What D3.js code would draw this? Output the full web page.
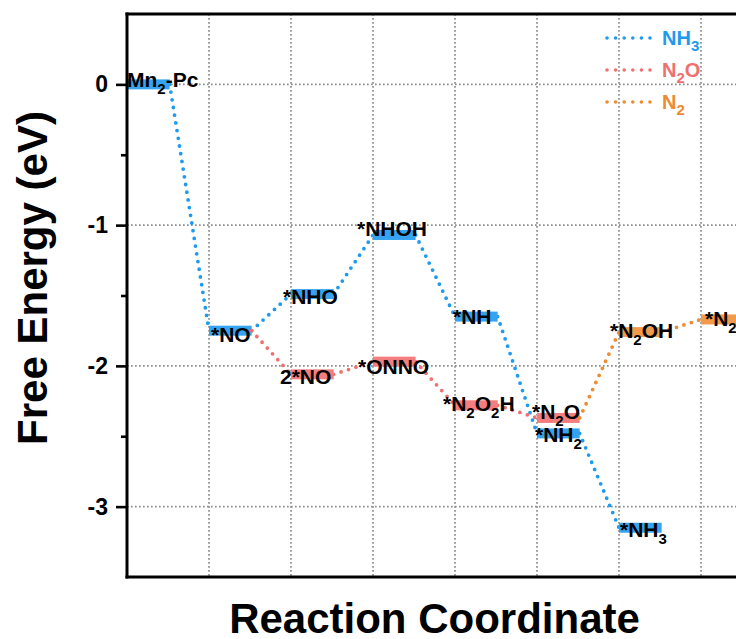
<!DOCTYPE html>
<html>
<head>
<meta charset="utf-8">
<script src="https://cdn.jsdelivr.net/npm/d3@7"></script>
<style>
  body { margin: 0; background: #fff; }
  svg { display: block; font-family: "Liberation Sans", Arial, sans-serif; font-weight: bold; }
</style>
</head>
<body>
<div id="chart"></div>
<script>
// free energy pathway data (eV), steps along the reaction coordinate
var nh3Steps = [0, 1, 2, 3, 4, 5, 6];
var nh3Energy = [0, -1.75, -1.49, -1.07, -1.65, -2.48, -3.15];
var nh3Labels = ["Mn_2-Pc", "*NO", "*NHO", "*NHOH", "*NH", "*NH_2", "*NH_3"];

var n2oSteps = [1, 2, 3, 4, 5];
var n2oEnergy = [-1.75, -2.06, -1.97, -2.28, -2.37];
var n2oLabels = ["", "2*NO", "*ONNO", "*N_2O_2H", "*N_2O"];

var n2Steps = [5, 6, 7];
var n2Energy = [-2.37, -1.76, -1.67];
var n2Labels = ["", "*N_2OH", "*N_2"];

var yTicks = [0, -1, -2, -3];
var yMinorTicks = [-0.5, -1.5, -2.5];
var gridSteps = [1, 2, 3, 4, 5, 6, 7];
var legendNames = ["NH_3", "N_2O", "N_2"];

// label nudges in px [dx, dy] relative to level start / level centre
var labelShift = {
  "Mn_2-Pc": [0, 3], "*NO": [2, 11], "*NHO": [-8, 10], "*NHOH": [-16, 1],
  "*NH": [-2, 7], "*NH_2": [-2, 9], "*NH_3": [1, 9],
  "2*NO": [-11, 10], "*ONNO": [-15, 12], "*N_2O_2H": [-12, 6], "*N_2O": [-5, 1],
  "*N_2OH": [-9, 6], "*N_2": [4, 7]
};

var colors = { nh3: "#1E9AEE", n2o: "#F07070", n2: "#EE8A30" };
var barColors = { nh3: "#36A3F1", n2o: "#F47E7E", n2: "#F29A4C" };

var W = 736, H = 639;
var margin = { left: 127, top: 14, right: 742, bottom: 577 };
var levelWidth = 0.52;

var svg = d3.select("#chart").append("svg")
  .attr("width", W).attr("height", H);

var x = d3.scaleLinear().domain([0, 7.5]).range([margin.left, margin.right]);
var y = d3.scaleLinear().domain([-3.5, 0.5]).range([margin.bottom, margin.top]);

// grid
var grid = svg.append("g").attr("stroke", "#8f8f8f").attr("stroke-width", 1.7)
  .attr("stroke-dasharray", "1.7 2.3");
grid.selectAll(".gv").data(gridSteps).enter().append("line")
  .attr("x1", d => x(d)).attr("x2", d => x(d))
  .attr("y1", margin.top).attr("y2", margin.bottom);
grid.selectAll(".gh").data(yTicks).enter().append("line")
  .attr("x1", margin.left).attr("x2", margin.right)
  .attr("y1", d => y(d)).attr("y2", d => y(d));

// write text with "_x" meaning subscript x
function richText(sel, str, subSize, drop) {
  var parts = str.split(/(_.)/).filter(p => p.length);
  var down = false;
  parts.forEach(function (p) {
    var t = sel.append("tspan");
    if (p[0] === "_") {
      t.text(p.slice(1)).attr("font-size", subSize).attr("dy", drop);
      down = true;
    } else {
      t.text(p);
      if (down) { t.attr("dy", -drop); down = false; }
    }
  });
}

function drawPath(steps, energy, key, skipFirstBar) {
  var g = svg.append("g");
  var segs = d3.range(steps.length - 1).map(i => [
    [x(steps[i] + levelWidth), y(energy[i])],
    [x(steps[i + 1]), y(energy[i + 1])]
  ]);
  g.selectAll("line.c").data(segs).enter().append("line")
    .attr("x1", d => d[0][0]).attr("y1", d => d[0][1])
    .attr("x2", d => d[1][0]).attr("y2", d => d[1][1])
    .attr("stroke", colors[key]).attr("stroke-width", 3.8)
    .attr("stroke-linecap", "round").attr("stroke-dasharray", "0 7.8");
  var idx = d3.range(steps.length).filter(i => !(skipFirstBar && i === 0));
  g.selectAll("rect").data(idx).enter().append("rect")
    .attr("x", i => x(steps[i]))
    .attr("width", i => x(steps[i] + levelWidth) - x(steps[i]))
    .attr("y", i => y(energy[i]) - 5).attr("height", 10)
    .attr("fill", barColors[key]);
}

drawPath(nh3Steps, nh3Energy, "nh3", false);
drawPath(n2oSteps, n2oEnergy, "n2o", true);
drawPath(n2Steps, n2Energy, "n2", true);

// labels on top
var labelSets = [[nh3Steps, nh3Energy, nh3Labels], [n2oSteps, n2oEnergy, n2oLabels], [n2Steps, n2Energy, n2Labels]];
var lg = svg.append("g").attr("font-size", 21).attr("fill", "#000");
labelSets.forEach(function (s) {
  s[2].forEach(function (lab, i) {
    if (!lab) return;
    var sh = labelShift[lab] || [0, 0];
    var t = lg.append("text").attr("x", x(s[0][i]) + sh[0]).attr("y", y(s[1][i]) + sh[1]);
    richText(t, lab, 15, 7);
  });
});

// legend
var legendKeys = ["nh3", "n2o", "n2"];
var leg = svg.append("g");
legendNames.forEach(function (name, i) {
  var ly = 38 + i * 32;
  leg.append("line").attr("x1", 607).attr("x2", 652).attr("y1", ly).attr("y2", ly)
    .attr("stroke", colors[legendKeys[i]]).attr("stroke-width", 3.6)
    .attr("stroke-linecap", "round").attr("stroke-dasharray", "0 8.6");
  var t = leg.append("text").attr("x", 662).attr("y", ly + 7)
    .attr("font-size", 20).attr("fill", colors[legendKeys[i]]);
  richText(t, name, 15, 6);
});

// y axis
var yAxis = svg.append("g").attr("transform", "translate(" + margin.left + ",0)")
  .call(d3.axisLeft(y).tickValues(yTicks).tickSize(11).tickPadding(8).tickFormat(d => String(d)));
yAxis.select(".domain").remove();
yAxis.selectAll("line").attr("stroke-width", 2.6);
yAxis.selectAll("text").attr("font-size", 23).attr("font-family", "Liberation Sans, Arial, sans-serif")
  .attr("font-weight", "bold").attr("fill", "#000");

var yMinor = svg.append("g").attr("transform", "translate(" + margin.left + ",0)")
  .call(d3.axisLeft(y).tickValues(yMinorTicks).tickSize(6).tickFormat(""));
yMinor.select(".domain").remove();
yMinor.selectAll("line").attr("stroke-width", 2.6);

// frame
var frame = svg.append("g").attr("stroke", "#000").attr("stroke-width", 3).attr("stroke-linecap", "square");
frame.append("line").attr("x1", margin.left).attr("x2", margin.right).attr("y1", margin.top).attr("y2", margin.top);
frame.append("line").attr("x1", margin.left).attr("x2", margin.right).attr("y1", margin.bottom).attr("y2", margin.bottom);
frame.append("line").attr("x1", margin.left).attr("x2", margin.left).attr("y1", margin.top).attr("y2", margin.bottom);

// axis titles
svg.append("text").attr("x", (margin.left + margin.right) / 2).attr("y", 633)
  .attr("text-anchor", "middle").attr("font-size", 42).text("Reaction Coordinate");
svg.append("text").attr("transform", "translate(47,278) rotate(-90)")
  .attr("text-anchor", "middle").attr("font-size", 42).text("Free Energy (eV)");
</script>
</body>
</html>
